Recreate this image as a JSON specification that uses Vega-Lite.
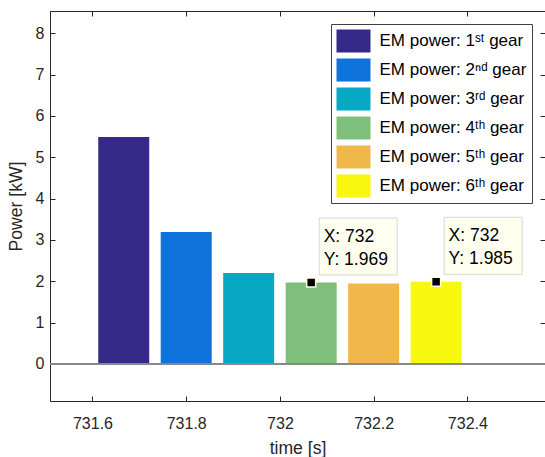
{
  "$schema": "https://vega.github.io/schema/vega-lite/v6.json",
  "width": 495,
  "height": 390,
  "autosize": {"type": "none"},
  "padding": {"left": 50, "top": 11, "right": 0, "bottom": 56},
  "background": "white",
  "config": {
    "font": "Liberation Sans",
    "view": {"stroke": "#262626", "strokeWidth": 1},
    "axis": {"grid": false, "domainColor": "#262626", "tickColor": "#262626", "labelColor": "#262626", "titleColor": "#262626", "labelFontSize": 16, "titleFontSize": 17.6, "titleFontWeight": "normal", "tickSize": -5}
  },
  "data": {
    "values": [
      {"gear": "1st", "label": "EM power: 1ˢᵗ gear", "time": 732, "t": 731.6667, "power": 5.49},
      {"gear": "2nd", "label": "EM power: 2ⁿᵈ gear", "time": 732, "t": 731.8, "power": 3.19},
      {"gear": "3rd", "label": "EM power: 3ʳᵈ gear", "time": 732, "t": 731.9333, "power": 2.2},
      {"gear": "4th", "label": "EM power: 4ᵗʰ gear", "time": 732, "t": 732.0667, "power": 1.969},
      {"gear": "5th", "label": "EM power: 5ᵗʰ gear", "time": 732, "t": 732.2, "power": 1.945},
      {"gear": "6th", "label": "EM power: 6ᵗʰ gear", "time": 732, "t": 732.3333, "power": 1.985}
    ]
  },
  "resolve": {"axis": {"x": "independent", "y": "independent"}},
  "layer": [
    {
      "mark": {"type": "bar", "width": 51},
      "encoding": {
        "x": {"field": "t", "type": "quantitative", "scale": {"domain": [731.52, 732.555], "nice": false, "zero": false},
          "axis": {"orient": "bottom", "title": "time [s]", "values": [731.6, 731.8, 732, 732.2, 732.4], "format": ".6~g", "labelPadding": 19, "titlePadding": 8}},
        "y": {"field": "power", "type": "quantitative", "scale": {"domain": [-0.9, 8.54], "nice": false, "zero": false},
          "axis": {"orient": "left", "title": "Power [kW]", "values": [0, 1, 2, 3, 4, 5, 6, 7, 8], "format": "d", "labelPadding": 11, "titlePadding": 10}},
        "color": {"field": "label", "type": "nominal",
          "scale": {"domain": ["EM power: 1ˢᵗ gear", "EM power: 2ⁿᵈ gear", "EM power: 3ʳᵈ gear", "EM power: 4ᵗʰ gear", "EM power: 5ᵗʰ gear", "EM power: 6ᵗʰ gear"],
            "range": ["#352A87", "#0E73DB", "#07A8C4", "#7DBF7B", "#F0B84A", "#F8F80E"]},
          "legend": {"title": null, "orient": "top-right", "offset": 13, "padding": 5.5, "fillColor": "white", "strokeColor": "#404040",
            "symbolType": "M-1.478,-1H1.478V1H-1.478Z", "symbolSize": 529, "symbolStrokeWidth": 0, "symbolOpacity": 1, "symbolOffset": 5.5,
            "labelFontSize": 17, "labelColor": "#000000", "labelOffset": 14.5, "rowPadding": 6, "labelLimit": 300}}
      }
    },
    {
      "mark": {"type": "rule", "color": "#888888", "strokeWidth": 1.5},
      "encoding": {"y": {"datum": 0, "type": "quantitative", "axis": null}}
    },
    {
      "mark": {"type": "point", "opacity": 0},
      "encoding": {
        "x": {"field": "t", "type": "quantitative", "axis": {"orient": "top", "labels": false, "title": null, "values": [731.6, 731.8, 732, 732.2, 732.4], "domain": false}},
        "y": {"field": "power", "type": "quantitative", "axis": {"orient": "right", "labels": false, "title": null, "values": [0, 1, 2, 3, 4, 5, 6, 7, 8], "domain": false}}
      }
    },
    {
      "transform": [{"filter": "datum.gear == '4th' || datum.gear == '6th'"}],
      "layer": [
        {
          "mark": {"type": "point", "shape": "M-1,-0.7308H1V0.7308H-1Z", "size": 6084, "filled": true, "fill": "#FFFFF0", "stroke": "#D6D6D6", "strokeWidth": 1, "opacity": 1, "xOffset": 47, "yOffset": -36},
          "encoding": {"x": {"field": "t", "type": "quantitative", "axis": null}, "y": {"field": "power", "type": "quantitative", "axis": null}}
        },
        {
          "transform": [{"calculate": "'X: ' + datum.time", "as": "tx"}],
          "mark": {"type": "text", "align": "left", "baseline": "alphabetic", "fontSize": 17.5, "color": "#000000", "dx": 12.5, "dy": -40.5},
          "encoding": {"x": {"field": "t", "type": "quantitative", "axis": null}, "y": {"field": "power", "type": "quantitative", "axis": null}, "text": {"field": "tx"}}
        },
        {
          "transform": [{"calculate": "'Y: ' + datum.power", "as": "ty"}],
          "mark": {"type": "text", "align": "left", "baseline": "alphabetic", "fontSize": 17.5, "color": "#000000", "dx": 12.5, "dy": -17.5},
          "encoding": {"x": {"field": "t", "type": "quantitative", "axis": null}, "y": {"field": "power", "type": "quantitative", "axis": null}, "text": {"field": "ty"}}
        },
        {
          "mark": {"type": "point", "shape": "square", "size": 81, "filled": true, "fill": "#000000", "stroke": "#FFFFE0", "strokeWidth": 1.5, "opacity": 1},
          "encoding": {"x": {"field": "t", "type": "quantitative", "axis": null}, "y": {"field": "power", "type": "quantitative", "axis": null}}
        }
      ]
    }
  ]
}
